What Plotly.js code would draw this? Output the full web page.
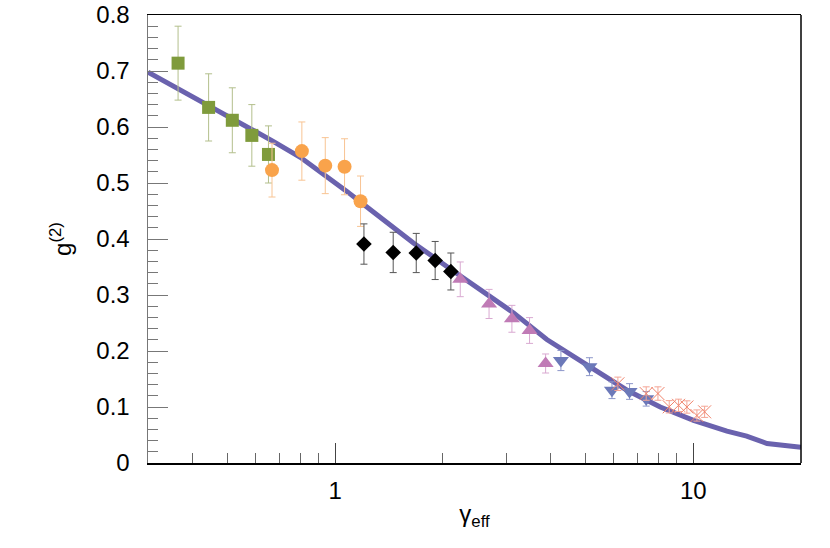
<!DOCTYPE html>
<html>
<head>
<meta charset="utf-8">
<script src="https://cdn.plot.ly/plotly-3.0.1.min.js"></script>
<style>
  html, body { margin: 0; padding: 0; background: #fff; }
  #chart { width: 830px; height: 548px; }
</style>
</head>
<body>
<div id="chart"></div>
<script>
// theory curve
const curveX = [0.30, 0.385, 0.438, 0.543, 0.673, 0.799, 0.927, 1.078, 1.252, 1.654, 2.05, 2.54, 3.15, 3.90, 4.73, 5.27, 6.53, 8.09, 10.02, 12.42, 14.1, 16.07, 20.0];
const curveY = [0.698, 0.660, 0.641, 0.608, 0.574, 0.546, 0.517, 0.485, 0.4527, 0.393, 0.351, 0.310, 0.268, 0.2205, 0.187, 0.167, 0.130, 0.100, 0.076, 0.0568, 0.048, 0.0348, 0.028];

// measured sets
const greenX = [0.364, 0.443, 0.516, 0.585, 0.651];
const greenY = [0.714, 0.635, 0.612, 0.585, 0.551];
const greenErr = [0.066, 0.060, 0.058, 0.055, 0.051];

const orangeX = [0.666, 0.807, 0.938, 1.062, 1.177];
const orangeY = [0.523, 0.557, 0.531, 0.529, 0.4675];
const orangeErr = [0.048, 0.052, 0.050, 0.050, 0.045];

const blackX = [1.203, 1.452, 1.684, 1.902, 2.104];
const blackY = [0.391, 0.376, 0.375, 0.3616, 0.342];
const blackErr = [0.036, 0.036, 0.035, 0.034, 0.033];

const pinkX = [2.235, 2.69, 3.116, 3.49, 3.87];
const pinkY = [0.328, 0.284, 0.2575, 0.2366, 0.1777];
const pinkErr = [0.031, 0.026, 0.024, 0.023, 0.017];

const blueX = [4.27, 5.13, 5.93, 6.64, 7.39];
const blueY = [0.183, 0.172, 0.130, 0.1277, 0.1146];
const blueErr = [0.018, 0.016, 0.015, 0.014, 0.013];

const redX = [6.16, 7.39, 7.97, 8.57, 9.10, 9.6, 10.24, 10.76];
const redY = [0.1414, 0.124, 0.124, 0.1004, 0.103, 0.100, 0.0848, 0.0914];
const redErr = [0.012, 0.012, 0.012, 0.011, 0.011, 0.011, 0.010, 0.010];

const xMinor = [0.3, 0.4, 0.5, 0.6, 0.7, 0.8, 0.9, 2, 3, 4, 5, 6, 7, 8, 9, 20];

function pts(x, y, err, symbol, size, color, errColor, lineW) {
  return {
    x: x, y: y, type: 'scatter', mode: 'markers',
    error_y: {type: 'data', array: err, visible: true, color: errColor, thickness: 1, width: 3.5},
    marker: {symbol: symbol, size: size, color: color, line: {width: lineW || 0, color: color}},
    showlegend: false, hoverinfo: 'x+y'
  };
}

const traces = [
  {x: curveX, y: curveY, type: 'scatter', mode: 'lines', line: {color: '#6a62ae', width: 5}, showlegend: false},
  pts(greenX, greenY, greenErr, 'square', 13, '#7f9b3c', '#b3bf8c'),
  pts(orangeX, orangeY, orangeErr, 'circle', 14, '#f9a34b', '#f8c493'),
  pts(blackX, blackY, blackErr, 'diamond', 12, '#000000', '#555555'),
  pts(pinkX, pinkY, pinkErr, 'triangle-up', 14, '#c07bb6', '#d9a9d1'),
  pts(blueX, blueY, blueErr, 'triangle-down', 14, '#6c79b9', '#8c96c9'),
  pts(redX, redY, redErr, 'x-thin-open', 13, '#f0826a', '#f4a595', 1)
];

const fontFam = 'Liberation Sans, Arial, Helvetica, sans-serif';

const layout = {
  width: 830, height: 548,
  margin: {l: 148, r: 29, t: 15, b: 85},
  paper_bgcolor: '#fff', plot_bgcolor: '#fff',
  font: {family: fontFam, size: 24, color: '#000'},
  showlegend: false,
  xaxis: {
    type: 'log', range: [Math.log10(0.3), Math.log10(20)],
    tickmode: 'array', tickvals: [1, 10], ticktext: ['1', '10'],
    tickfont: {family: fontFam, size: 24, color: '#000'},
    ticks: 'inside', ticklen: 20, tickwidth: 1, tickcolor: '#444',
    minor: {tickmode: 'array', tickvals: xMinor, ticks: 'inside', ticklen: 10, tickcolor: '#666', tickwidth: 1},
    showgrid: false, zeroline: false,
    showline: true, linecolor: '#000', linewidth: 1.5, mirror: true,
    ticklabelstandoff: 6,
    title: {text: 'γ<sub>eff</sub>', standoff: 2, font: {family: fontFam, size: 24}}
  },
  yaxis: {
    range: [0, 0.8], dtick: 0.1, tick0: 0,
    tickfont: {family: fontFam, size: 24, color: '#000'},
    ticks: 'inside', ticklen: 20, tickwidth: 1, tickcolor: '#777',
    minor: {dtick: 0.02, ticks: 'inside', ticklen: 10, tickcolor: '#777', tickwidth: 1},
    showgrid: false, zeroline: false,
    showline: true, linecolor: '#777', linewidth: 1.5, mirror: false,
    ticklabelstandoff: 12,
    title: {text: 'g<sup>(2)</sup>', standoff: 18, font: {family: fontFam, size: 24}}
  },
  shapes: [
    {type: 'line', xref: 'paper', yref: 'paper', x0: 1, x1: 1, y0: 0, y1: 1, line: {color: '#000', width: 1.5}}
  ]
};

Plotly.newPlot('chart', traces, layout, {displayModeBar: false, staticPlot: true});
</script>
</body>
</html>
